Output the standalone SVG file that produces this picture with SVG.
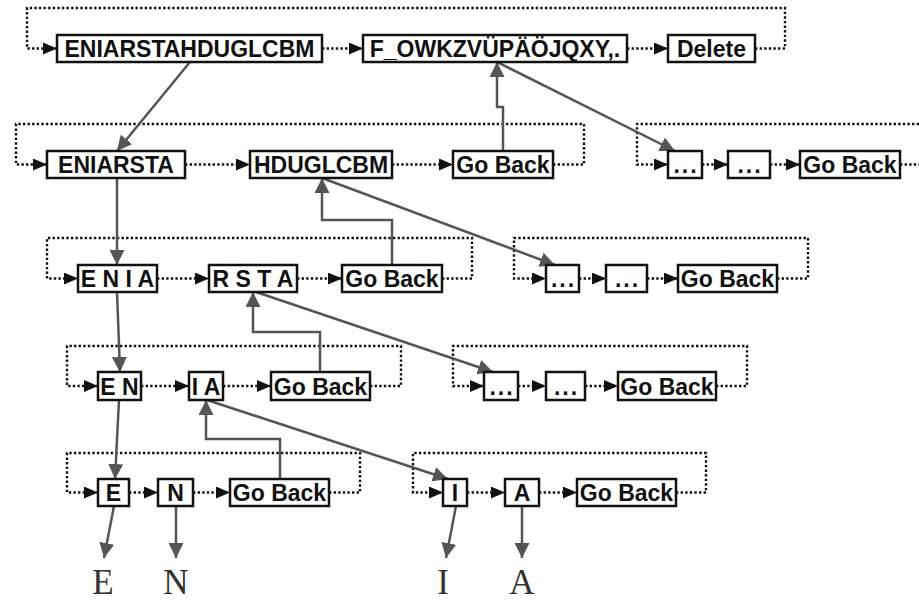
<svg xmlns="http://www.w3.org/2000/svg" width="919" height="601" viewBox="0 0 919 601">
<style>
.b{fill:#fff;stroke:#111;stroke-width:2.5}
.t{font-family:"Liberation Sans",Arial,sans-serif;font-weight:bold;font-size:23px;fill:#111;text-anchor:middle}
.dots{letter-spacing:2px}
.d{fill:none;stroke:#111;stroke-width:2.4;stroke-dasharray:2.4 2.2}
.da{fill:none;stroke:#111;stroke-width:2.4;stroke-dasharray:2.4 2.2;marker-end:url(#ad)}
.s{fill:none;stroke:#555;stroke-width:2.5;marker-end:url(#ag)}
.l{font-family:"Liberation Serif","Times New Roman",serif;font-size:35px;fill:#333;text-anchor:middle}
</style>
<defs>
<marker id="ad" markerWidth="14" markerHeight="12" refX="14" refY="6" orient="auto" markerUnits="userSpaceOnUse"><path d="M0,0 L14,6 L0,12 z" fill="#111"/></marker>
<marker id="ag" markerWidth="15" markerHeight="15" refX="15" refY="7.5" orient="auto" markerUnits="userSpaceOnUse"><path d="M0,0 L15,7.5 L0,15 z" fill="#555"/></marker>
</defs>
<rect width="919" height="601" fill="#fff"/>
<g id="connectors">
<path class="da" d="M755 48.5 H785 V8 H27 V48.5 H57"/>
<path class="da" d="M322 48.5 H363"/>
<path class="da" d="M627 48.5 H668"/>
<path class="da" d="M553 164.5 H584 V124 H16 V164.5 H47"/>
<path class="da" d="M185 164.5 H250"/>
<path class="da" d="M392 164.5 H453"/>
<path class="d" d="M900 164.5 H919"/>
<path class="da" d="M919 124 H637 V164.5 H668"/>
<path class="da" d="M702 164.5 H728"/>
<path class="da" d="M770 164.5 H800"/>
<path class="da" d="M442 278.5 H472 V238 H47 V278.5 H78"/>
<path class="da" d="M157 278.5 H209"/>
<path class="da" d="M297 278.5 H342"/>
<path class="da" d="M777 278.5 H808 V238 H514 V278.5 H546"/>
<path class="da" d="M579 278.5 H606"/>
<path class="da" d="M647 278.5 H678"/>
<path class="da" d="M370 386 H401 V346 H67 V386 H98"/>
<path class="da" d="M141 386 H189"/>
<path class="da" d="M223 386 H271"/>
<path class="da" d="M716 386 H747 V346 H453 V386 H484"/>
<path class="da" d="M518 386 H546"/>
<path class="da" d="M585 386 H618"/>
<path class="da" d="M329 492.5 H360 V453 H67 V492.5 H98"/>
<path class="da" d="M129 492.5 H158"/>
<path class="da" d="M193 492.5 H230"/>
<path class="da" d="M676 492.5 H706 V453 H413 V492.5 H443"/>
<path class="da" d="M467 492.5 H505"/>
<path class="da" d="M539 492.5 H577"/>
<path class="s" d="M190 62 L117 151"/>
<path class="s" d="M117 178 V265"/>
<path class="s" d="M117 292 L120 372"/>
<path class="s" d="M119 400 L115 479"/>
<path class="s" d="M114 506 L104 558"/>
<path class="s" d="M176 506 V558"/>
<path class="s" d="M456 506 L446 558"/>
<path class="s" d="M522 506 V558"/>
<path class="s" d="M503 151 V107 H497 V62"/>
<path class="s" d="M392 265 V220 H322 V178"/>
<path class="s" d="M320 372 V332 H253 V292"/>
<path class="s" d="M280 479 V439 H206 V400"/>
<path class="s" d="M497 62 L675 151"/>
<path class="s" d="M322 178 L555 265"/>
<path class="s" d="M256 292 L493 372"/>
<path class="s" d="M207 400 L448 479"/>
</g>
<g id="n_r1_1"><rect class="b" x="57" y="35" width="265" height="27"/><text class="t" x="189.5" y="57">ENIARSTAHDUGLCBM</text></g>
<g id="n_r1_2"><rect class="b" x="363" y="35" width="264" height="27"/><text class="t" x="495" y="57">F_OWKZVÜPÄÖJQXY,.</text></g>
<g id="n_r1_3"><rect class="b" x="668" y="35" width="87" height="27"/><text class="t" x="711.5" y="57">Delete</text></g>
<g id="n_r2_1"><rect class="b" x="47" y="151" width="138" height="27"/><text class="t" x="116" y="173">ENIARSTA</text></g>
<g id="n_r2_2"><rect class="b" x="250" y="151" width="142" height="27"/><text class="t" x="321" y="173">HDUGLCBM</text></g>
<g id="n_r2_3"><rect class="b" x="453" y="151" width="100" height="27"/><text class="t" x="503" y="173">Go Back</text></g>
<g id="n_r2_4"><rect class="b" x="668" y="151" width="34" height="27"/><text class="t dots" x="686" y="173">...</text></g>
<g id="n_r2_5"><rect class="b" x="728" y="151" width="42" height="27"/><text class="t dots" x="750" y="173">...</text></g>
<g id="n_r2_6"><rect class="b" x="800" y="151" width="100" height="27"/><text class="t" x="850" y="173">Go Back</text></g>
<g id="n_r3_1"><rect class="b" x="78" y="265" width="79" height="27"/><text class="t" x="117.5" y="287">E N I A</text></g>
<g id="n_r3_2"><rect class="b" x="209" y="265" width="88" height="27"/><text class="t" x="253" y="287">R S T A</text></g>
<g id="n_r3_3"><rect class="b" x="342" y="265" width="100" height="27"/><text class="t" x="392" y="287">Go Back</text></g>
<g id="n_r3_4"><rect class="b" x="546" y="265" width="33" height="27"/><text class="t dots" x="563.5" y="287">...</text></g>
<g id="n_r3_5"><rect class="b" x="606" y="265" width="41" height="27"/><text class="t dots" x="627.5" y="287">...</text></g>
<g id="n_r3_6"><rect class="b" x="678" y="265" width="99" height="27"/><text class="t" x="727.5" y="287">Go Back</text></g>
<g id="n_r4_1"><rect class="b" x="98" y="372" width="43" height="28"/><text class="t" x="119.5" y="394.5">E N</text></g>
<g id="n_r4_2"><rect class="b" x="189" y="372" width="34" height="28"/><text class="t" x="206" y="394.5">I A</text></g>
<g id="n_r4_3"><rect class="b" x="271" y="372" width="99" height="28"/><text class="t" x="320.5" y="394.5">Go Back</text></g>
<g id="n_r4_4"><rect class="b" x="484" y="372" width="34" height="28"/><text class="t dots" x="502" y="394.5">...</text></g>
<g id="n_r4_5"><rect class="b" x="546" y="372" width="39" height="28"/><text class="t dots" x="566.5" y="394.5">...</text></g>
<g id="n_r4_6"><rect class="b" x="618" y="372" width="98" height="28"/><text class="t" x="667" y="394.5">Go Back</text></g>
<g id="n_r5_1"><rect class="b" x="98" y="479" width="31" height="27"/><text class="t" x="113.5" y="501">E</text></g>
<g id="n_r5_2"><rect class="b" x="158" y="479" width="35" height="27"/><text class="t" x="175.5" y="501">N</text></g>
<g id="n_r5_3"><rect class="b" x="230" y="479" width="99" height="27"/><text class="t" x="279.5" y="501">Go Back</text></g>
<g id="n_r5_4"><rect class="b" x="443" y="479" width="24" height="27"/><text class="t" x="455" y="501">I</text></g>
<g id="n_r5_5"><rect class="b" x="505" y="479" width="34" height="27"/><text class="t" x="522" y="501">A</text></g>
<g id="n_r5_6"><rect class="b" x="577" y="479" width="99" height="27"/><text class="t" x="626.5" y="501">Go Back</text></g>
<g id="out_E"><text class="l" x="103" y="594">E</text></g>
<g id="out_N"><text class="l" x="176" y="594">N</text></g>
<g id="out_I"><text class="l" x="443" y="594">I</text></g>
<g id="out_A"><text class="l" x="522" y="594">A</text></g>
</svg>
